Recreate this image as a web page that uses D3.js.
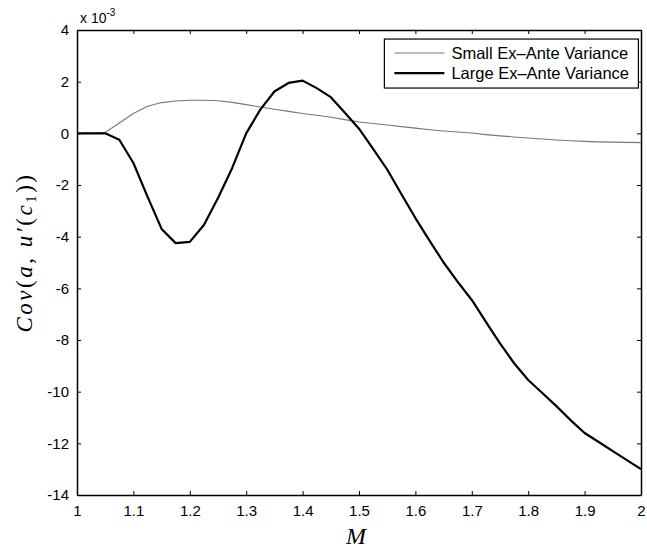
<!DOCTYPE html>
<html>
<head>
<meta charset="utf-8">
<script src="https://cdn.jsdelivr.net/npm/d3@7"></script>
<style>
  body { margin: 0; background: #fff; }
  svg { display: block; }
  .tick text { font-family: "Liberation Sans", Arial, sans-serif; font-size: 15px; fill: #000; }
</style>
</head>
<body>
<div id="chart"></div>
<script>
// values, y in units of 1e-3
const M_VALUES = [1.0, 1.025, 1.05, 1.075, 1.1, 1.125, 1.15, 1.175, 1.2, 1.225, 1.25, 1.275, 1.3, 1.325, 1.35, 1.375, 1.4, 1.425, 1.45, 1.475, 1.5,
  1.525, 1.55, 1.575, 1.6, 1.625, 1.65, 1.675, 1.7, 1.725, 1.75, 1.775, 1.8, 1.825, 1.85, 1.875, 1.9, 1.925, 1.95, 1.975, 2.0];
const SMALL_VAR = [0, 0, 0.03, 0.4, 0.77, 1.05, 1.19, 1.25, 1.28, 1.28, 1.26, 1.2, 1.11, 1.02, 0.93, 0.85, 0.77, 0.7, 0.62, 0.53, 0.44,
  0.38, 0.32, 0.26, 0.2, 0.14, 0.09, 0.05, 0.01, -0.05, -0.1, -0.14, -0.18, -0.22, -0.26, -0.29, -0.31, -0.33, -0.34, -0.35, -0.36];
const LARGE_VAR = [0, 0, 0, -0.25, -1.15, -2.45, -3.7, -4.25, -4.2, -3.55, -2.5, -1.35, 0.0, 0.92, 1.62, 1.95, 2.04, 1.75, 1.4, 0.8, 0.18,
  -0.6, -1.4, -2.35, -3.28, -4.15, -5.0, -5.75, -6.45, -7.3, -8.13, -8.9, -9.55, -10.05, -10.56, -11.1, -11.6, -11.95, -12.3, -12.65, -13.0];
const SERIES_NAMES = ["Small Ex\u2013Ante Variance", "Large Ex\u2013Ante Variance"];
const X_TICKS = [1, 1.1, 1.2, 1.3, 1.4, 1.5, 1.6, 1.7, 1.8, 1.9, 2];
const Y_TICKS = [4, 2, 0, -2, -4, -6, -8, -10, -12, -14];

const WIDTH = 647;
const HEIGHT = 550;
const margin = { top: 30, right: 6, bottom: 55, left: 77 };
const innerW = WIDTH - margin.left - margin.right;
const innerH = HEIGHT - margin.top - margin.bottom;

const x = d3.scaleLinear().domain([1, 2]).range([0, innerW]);
const y = d3.scaleLinear().domain([-14, 4]).range([innerH, 0]);

const svg = d3.select("#chart").append("svg")
  .attr("width", WIDTH)
  .attr("height", HEIGHT);

const g = svg.append("g")
  .attr("transform", `translate(${margin.left},${margin.top})`);

// axes, ticks inward on all four sides like matlab
g.append("g")
  .attr("transform", `translate(0,${innerH})`)
  .call(d3.axisBottom(x).tickValues(X_TICKS).tickFormat(d => String(d)).tickSizeInner(-4).tickSizeOuter(0).tickPadding(10));
g.append("g")
  .call(d3.axisTop(x).tickValues(X_TICKS).tickFormat("").tickSizeInner(-4).tickSizeOuter(0));
g.append("g")
  .call(d3.axisLeft(y).tickValues(Y_TICKS).tickFormat(d => String(d)).tickSizeInner(-4).tickSizeOuter(0).tickPadding(8));
g.append("g")
  .attr("transform", `translate(${innerW},0)`)
  .call(d3.axisRight(y).tickValues(Y_TICKS).tickFormat("").tickSizeInner(-4).tickSizeOuter(0));

g.selectAll(".domain").attr("stroke", "#000").attr("stroke-width", 1.5);
g.selectAll(".tick line").attr("stroke", "#000");

// curves
const line = d3.line()
  .x((d, i) => x(M_VALUES[i]))
  .y(d => y(d));

g.append("path")
  .datum(SMALL_VAR)
  .attr("fill", "none")
  .attr("stroke", "#777")
  .attr("stroke-width", 1.1)
  .attr("d", line);

g.append("path")
  .datum(LARGE_VAR)
  .attr("fill", "none")
  .attr("stroke", "#000")
  .attr("stroke-width", 2.2)
  .attr("stroke-linejoin", "round")
  .attr("d", line);

// legend
const legend = g.append("g").attr("transform", `translate(${x(1.545)},${y(3.65)})`);
legend.append("rect")
  .attr("width", 254)
  .attr("height", 49)
  .attr("fill", "#fff")
  .attr("stroke", "#000")
  .attr("stroke-width", 1.2);
const styles = [{ c: "#777", w: 1.1 }, { c: "#000", w: 2.2 }];
SERIES_NAMES.forEach((name, i) => {
  const row = legend.append("g").attr("transform", `translate(0,${14 + i * 20})`);
  row.append("line")
    .attr("x1", 10).attr("x2", 60)
    .attr("stroke", styles[i].c)
    .attr("stroke-width", styles[i].w);
  row.append("text")
    .attr("x", 67)
    .attr("dy", "0.35em")
    .style("font-family", "'Liberation Sans', Arial, sans-serif")
    .style("font-size", "16.5px")
    .text(name);
});

// exponent label
const expo = svg.append("text")
  .attr("x", margin.left + 3)
  .attr("y", margin.top - 7)
  .style("font-family", "'Liberation Sans', Arial, sans-serif")
  .style("font-size", "14px");
expo.append("tspan").text("x 10");
expo.append("tspan").attr("dy", -7).style("font-size", "10px").text("-3");

// axis titles
svg.append("text")
  .attr("x", margin.left + innerW / 2 - 3)
  .attr("y", HEIGHT - 6)
  .attr("text-anchor", "middle")
  .style("font-family", "'Liberation Serif', 'Times New Roman', serif")
  .style("font-style", "italic")
  .style("font-size", "24px")
  .text("M");

const ylab = svg.append("text")
  .attr("transform", `translate(32,${margin.top + innerH / 2 - 10}) rotate(-90)`)
  .attr("text-anchor", "middle")
  .style("font-family", "'Liberation Serif', 'Times New Roman', serif")
  .style("font-size", "23px")
  .style("letter-spacing", "2.5px");
ylab.append("tspan").style("font-style", "italic").text("Cov");
ylab.append("tspan").text("(");
ylab.append("tspan").style("font-style", "italic").text("a");
ylab.append("tspan").text(", ");
ylab.append("tspan").style("font-style", "italic").text("u\u2032");
ylab.append("tspan").text("(");
ylab.append("tspan").style("font-style", "italic").text("c");
ylab.append("tspan").attr("dy", 4).style("font-size", "15px").text("1");
ylab.append("tspan").attr("dy", -4).text("))");
</script>
</body>
</html>
